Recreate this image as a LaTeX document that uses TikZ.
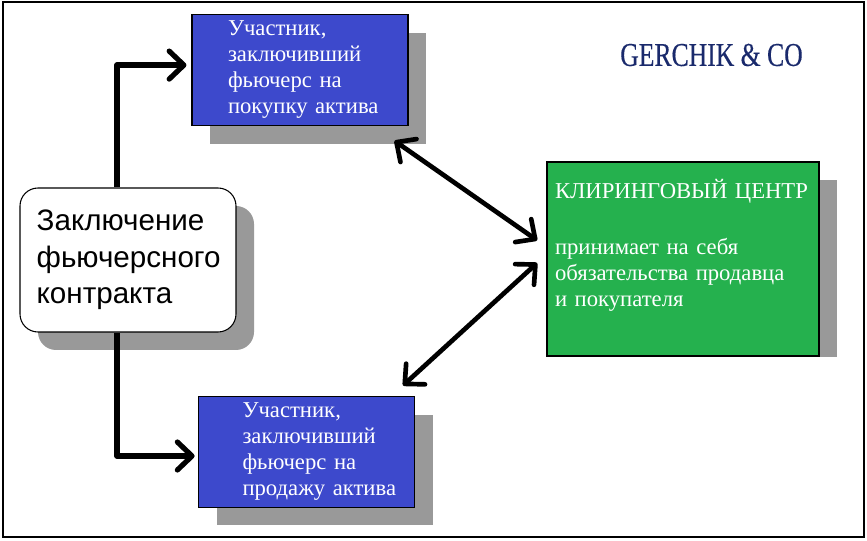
\documentclass[tikz,border=0pt]{standalone}
\usepackage{fontspec}
\setmainfont{Liberation Serif}
\newfontfamily\dealfont{Liberation Sans}
\newfontfamily\logofont[FakeStretch=0.77,FakeBold=0.3]{Liberation Serif}
\usetikzlibrary{arrows.meta,shadows}
\definecolor{partblue}{HTML}{3D49CC}
\definecolor{centergreen}{HTML}{25B14E}
\definecolor{shadegray}{HTML}{999999}
\definecolor{logonavy}{HTML}{1A2A6C}
\tikzset{
  box/.style={draw=black,line width=0.8pt,inner sep=0pt,align=left,text=white,
    font=\fontsize{17}{19.5}\selectfont},
  shady/.style={general shadow={fill=shadegray,shadow xshift=13.5pt,shadow yshift=-13.5pt}},
  partbox/.style={box,shady,fill=partblue,minimum width=162pt,minimum height=83pt,text width=162pt},
  link/.style={line width=3.9pt,line join=round,-{Straight Barb[length=11pt,width=21pt,round]}},
  twolink/.style={line width=3.5pt,{Straight Barb[length=11pt,width=21pt,round]}-{Straight Barb[length=11pt,width=21pt,round]}}
}
\begin{document}
\begin{tikzpicture}[x=0.75pt,y=-0.75pt]
\useasboundingbox (0,0) rectangle (867,541);
\draw[line width=0.9pt] (3,2) rectangle (864,537);
% the nodes
\node [partbox,execute at begin node={\leftskip=27pt\relax}] (buyer) at (300,70.3)
  {Участник,\\заключивший\\фьючерс на\\покупку актива\\[-15pt]~};
\node [partbox,execute at begin node={\leftskip=33pt\relax}] (seller) at (306.5,452)
  {Участник,\\заключивший\\фьючерс на\\продажу актива};
\fill [shadegray] (565,180) rectangle (837,357);
\node [box,fill=centergreen,minimum width=204pt,minimum height=145.5pt,text width=204pt,
  execute at begin node={\leftskip=6pt\relax}] (clearing) at (683,259)
  {КЛИРИНГОВЫЙ ЦЕНТР\\[22.5pt]принимает на себя\\обязательства продавца\\и покупателя\\[4pt]~};
\node [box,shady,fill=white,text=black,rounded corners=13.5pt,minimum width=162pt,minimum height=108pt,
  text width=162pt,font=\dealfont\fontsize{22.2}{27.4}\selectfont,
  execute at begin node={\leftskip=12.5pt\relax}] (deal) at (128,260)
  {Заключение\\фьючерсного\\контракта};
\node [text=logonavy,inner sep=0pt,font=\logofont\fontsize{25}{25}\selectfont] (logo) at (711.5,55) {GERCHIK \& CO};
% the arrows
\draw [link] ([xshift=-8.25pt]deal.north) |- ([xshift=-3.75pt,yshift=3.9pt]buyer.west);
\draw [link] ([xshift=-8.25pt]deal.south) |- ([xshift=-2.5pt,yshift=-3pt]seller.west);
\draw [twolink] ([xshift=-10.5pt,yshift=-11pt]buyer.south east) -- ([xshift=-7pt,yshift=14pt]clearing.west);
\draw [twolink] ([xshift=-9pt,yshift=8pt]seller.north east) -- ([xshift=-7pt,yshift=-3pt]clearing.west);
\end{tikzpicture}
\end{document}
